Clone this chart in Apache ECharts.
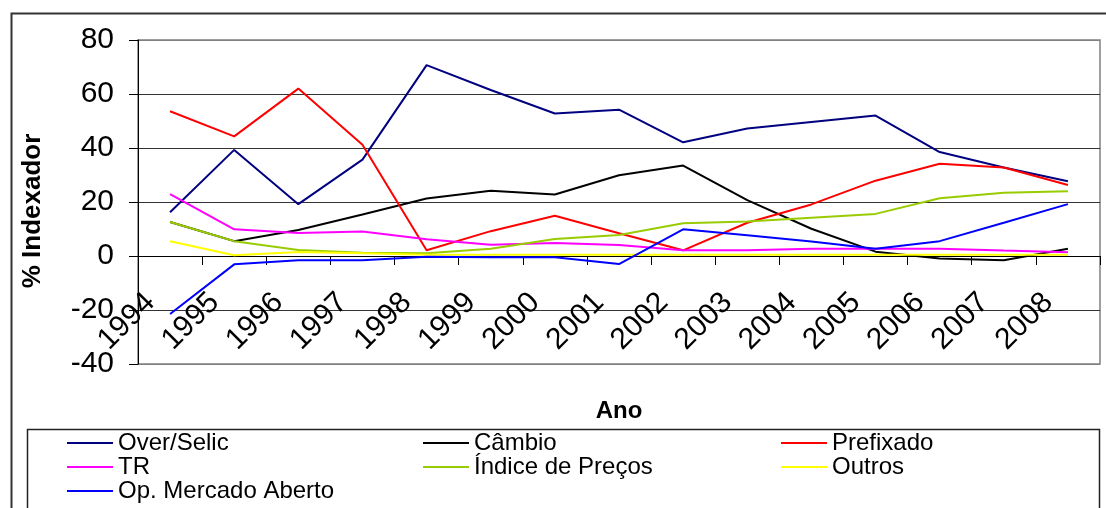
<!DOCTYPE html>
<html>
<head>
<meta charset="utf-8">
<script src="https://cdn.jsdelivr.net/npm/echarts@6/dist/echarts.min.js"></script>
<style>
    html, body { margin: 0; padding: 0; background: #fff; }
    #chart { width: 1106px; height: 508px; }
</style>
</head>
<body>
<div id="chart"></div>
<script>
    // anos (eixo X)
    const anos = ['1994','1995','1996','1997','1998','1999','2000','2001','2002','2003','2004','2005','2006','2007','2008'];

    // % por indexador
    const overSelic   = [16.2, 39.3, 19.2, 35.7, 70.7, 61.5, 52.8, 54.2, 42.1, 47.2, 49.6, 52.0, 38.5, 32.8, 27.7];
    const cambio      = [12.6, 5.5, 9.6, 15.4, 21.3, 24.2, 22.8, 29.9, 33.5, 20.7, 10.1, 1.6, -0.9, -1.6, 2.7];
    const prefixado   = [53.6, 44.3, 62.0, 41.2, 2.1, 9.2, 14.9, 8.4, 2.1, 12.3, 19.1, 27.9, 34.2, 32.8, 26.3];
    const tr          = [22.9, 9.9, 8.5, 9.1, 6.2, 4.2, 4.8, 4.1, 2.1, 2.1, 2.7, 2.7, 2.7, 2.0, 1.4];
    const indicePrecos= [12.6, 5.5, 2.2, 1.2, 1.0, 2.7, 6.3, 7.8, 12.1, 12.8, 14.2, 15.6, 21.4, 23.4, 24.0];
    const outros      = [5.5, 0.3, 1.5, 1.0, 0.5, 0.5, 0.5, 0.5, 0.5, 0.5, 0.5, 0.5, 0.5, 0.5, 0.5];
    const mercadoAberto = [-21.5, -3.1, -1.6, -1.6, -0.3, -0.5, -0.5, -3.0, 9.9, 7.7, 5.4, 2.7, 5.5, 12.3, 19.2];

    const yTicks = { min: -40, max: 80, interval: 20 };

    const fonte = 'Liberation Sans, Arial, sans-serif';

    function linha(nome, dados, cor) {
        return {
            name: nome,
            type: 'line',
            data: dados,
            symbol: 'none',
            smooth: false,
            lineStyle: { color: cor, width: 2 },
            itemStyle: { color: cor },
            emphasis: { disabled: true },
            animation: false
        };
    }

    // uma legenda por coluna
    function legenda(left, nomes) {
        return {
            orient: 'vertical',
            left: left,
            top: 431,
            height: 80,
            padding: 0,
            icon: 'rect',
            itemWidth: 46,
            itemHeight: 2,
            itemGap: 0,
            selectedMode: false,
            data: nomes,
            textStyle: { fontFamily: fonte, fontSize: 24, color: '#000', lineHeight: 23.5 }
        };
    }

    const chart = echarts.init(document.getElementById('chart'));
    chart.setOption({
        animation: false,
        backgroundColor: '#fff',
        textStyle: { fontFamily: fonte },
        grid: {
            left: 138, right: 6, top: 40, bottom: 144,
            containLabel: false,
            outerBoundsMode: 'none',
            show: true, borderColor: '#808080', borderWidth: 1.5
        },
        graphic: [
            {   // moldura externa
                type: 'rect', left: 9, top: 11, z: 100,
                shape: { width: 1200, height: 600 },
                style: { fill: 'none', stroke: '#333', lineWidth: 2 },
                silent: true
            },
            {   // caixa da legenda
                type: 'rect', left: 25, top: 427, z: 100,
                shape: { width: 1072, height: 80 },
                style: { fill: 'none', stroke: '#222', lineWidth: 1.5 },
                silent: true
            },
            {   // titulo do eixo Y
                type: 'text', x: 33, y: 211, rotation: Math.PI / 2,
                style: {
                    text: '% Indexador', fill: '#000',
                    font: 'bold 26px ' + fonte,
                    align: 'center', verticalAlign: 'middle'
                },
                silent: true
            }
        ],
        legend: [
            legenda(67, ['Over/Selic', 'TR', 'Op. Mercado Aberto']),
            legenda(423, ['Câmbio', 'Índice de Preços']),
            legenda(781, ['Prefixado', 'Outros'])
        ],
        xAxis: {
            type: 'category',
            data: anos,
            boundaryGap: true,
            offset: -108,   // eixo passa pelo zero
            name: 'Ano',
            nameLocation: 'middle',
            nameGap: 143,
            nameTextStyle: { fontFamily: fonte, fontSize: 24, fontWeight: 'bold', color: '#000' },
            axisLine: { onZero: false, lineStyle: { color: '#000', width: 1 } },
            axisTick: { show: true, interval: 0, length: 9, lineStyle: { color: '#000' } },
            axisLabel: {
                interval: 0, rotate: 45, margin: 22,
                padding: [0, 28, 0, 0],
                fontFamily: fonte, fontSize: 30, color: '#000'
            },
            splitLine: { show: false }
        },
        yAxis: {
            type: 'value',
            min: yTicks.min, max: yTicks.max, interval: yTicks.interval,
            axisLine: { show: true, lineStyle: { color: '#000', width: 1 } },
            axisTick: { show: true, length: 9, lineStyle: { color: '#000' } },
            axisLabel: { margin: 24, fontFamily: fonte, fontSize: 30, color: '#000' },
            splitLine: {
                show: true,
                lineStyle: { color: ['#808080', '#333', '#333', '#333', '#333', '#333', '#808080'], width: 1 }
            }
        },
        series: [
            linha('Over/Selic', overSelic, '#000080'),
            linha('Câmbio', cambio, '#000000'),
            linha('Prefixado', prefixado, '#ff0000'),
            linha('TR', tr, '#ff00ff'),
            linha('Índice de Preços', indicePrecos, '#99cc00'),
            linha('Outros', outros, '#ffff00'),
            linha('Op. Mercado Aberto', mercadoAberto, '#0000ff')
        ]
    });
</script>
</body>
</html>
